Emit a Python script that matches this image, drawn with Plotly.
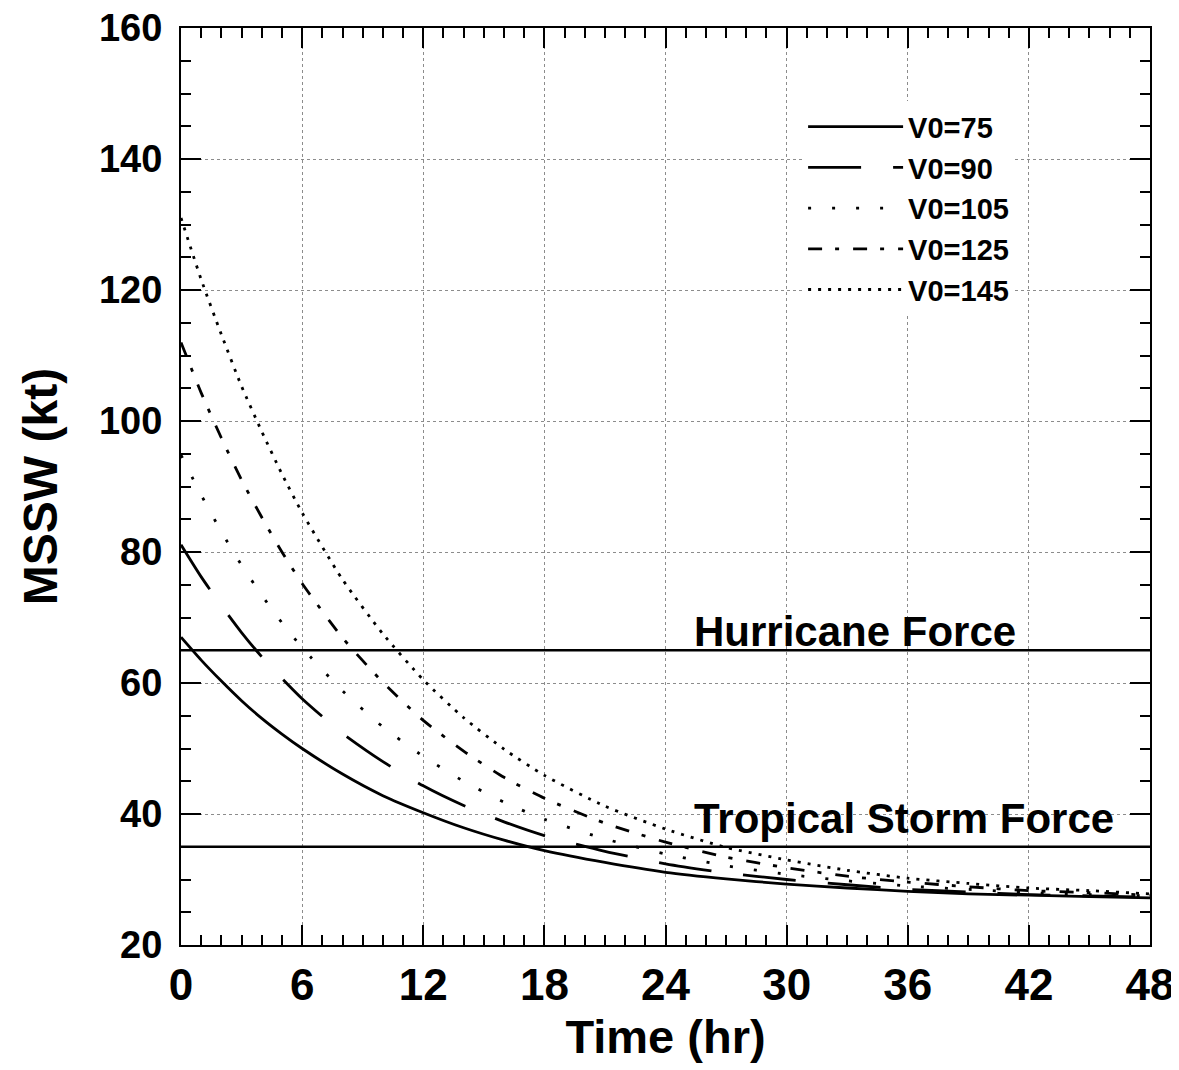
import plotly.graph_objects as go

# ---- data ----
time_hr = [0, 1, 2, 3, 4, 5, 6, 8, 10, 12, 14, 16, 18, 21, 24, 27, 30, 33, 36, 39, 42, 45, 48]

mssw_v75 = [67.0, 63.5, 60.3, 57.3, 54.6, 52.2, 50.0, 46.1, 42.8, 40.2, 37.9, 36.0, 34.4,
            32.6, 31.1, 30.1, 29.3, 28.7, 28.2, 27.8, 27.6, 27.4, 27.2]
mssw_v90 = [81.1, 76.2, 71.8, 67.7, 64.0, 60.7, 57.6, 52.3, 48.0, 44.3, 41.3, 38.8, 36.7,
            34.3, 32.4, 31.0, 30.0, 29.2, 28.5, 28.1, 27.7, 27.5, 27.3]
mssw_v105 = [94.8, 88.7, 83.1, 78.0, 73.4, 69.2, 65.4, 58.8, 53.3, 48.8, 45.0, 41.8, 39.2,
             36.2, 33.9, 32.1, 30.8, 29.8, 29.0, 28.5, 28.0, 27.7, 27.5]
mssw_v125 = [112.0, 104.3, 97.4, 91.0, 85.3, 80.0, 75.2, 66.9, 60.1, 54.3, 49.6, 45.6, 42.4,
             38.6, 35.7, 33.4, 31.8, 30.5, 29.6, 28.9, 28.3, 28.0, 27.6]
mssw_v145 = [131.0, 121.6, 113.2, 105.3, 98.4, 91.9, 86.0, 75.8, 67.5, 60.5, 54.7, 49.9, 45.9,
             41.2, 37.7, 34.9, 33.0, 31.4, 30.2, 29.4, 28.7, 28.3, 27.8]

series_names = ["V0=75", "V0=90", "V0=105", "V0=125", "V0=145"]
series_values = [mssw_v75, mssw_v90, mssw_v105, mssw_v125, mssw_v145]

threshold_values = [65, 35]
threshold_labels = ["Hurricane Force", "Tropical Storm Force"]

x_tick_vals = [0, 6, 12, 18, 24, 30, 36, 42, 48]
y_tick_vals = [20, 40, 60, 80, 100, 120, 140, 160]

# ---- styles ----
dash_styles = ["solid", "53px,32px", "3px,21px", "14px,13px,4px,14px", "3px,7px"]
FONT = "Liberation Sans, Arial, Helvetica, sans-serif"

fig = go.Figure()
for name, vals, dash in zip(series_names, series_values, dash_styles):
    fig.add_trace(go.Scatter(
        x=time_hr, y=vals, name=name, mode="lines",
        line=dict(color="black", width=2.8, dash=dash, shape="spline", smoothing=0.6),
    ))

for val, label, yshift in zip(threshold_values, threshold_labels, [-7, 3]):
    fig.add_hline(y=val, line=dict(color="black", width=2.5))
    fig.add_annotation(
        x=0.527, xref="paper", xanchor="left",
        y=val, yref="y", yanchor="bottom", yshift=yshift,
        text=label, showarrow=False,
        font=dict(family=FONT, size=42, color="black", weight="bold"),
    )

# the page body adds an 8px offset, so the figure is 8px smaller and margins compensate
fig.update_layout(
    width=1171, height=1062,
    margin=dict(l=173, r=29, t=20, b=125),
    paper_bgcolor="white", plot_bgcolor="white",
    font=dict(family=FONT, color="black", weight="bold"),
    showlegend=True,
    legend=dict(
        x=0.642, xanchor="left", y=0.920, yanchor="top",
        bgcolor="white", borderwidth=0,
        font=dict(family=FONT, size=29, color="black", weight="bold"),
        itemwidth=95, tracegroupgap=0,
    ),
)

fig.update_xaxes(
    range=[0, 48], tickvals=x_tick_vals, ticktext=[str(v) for v in x_tick_vals],
    automargin=False, ticklabeloverflow="allow",
    showline=True, linecolor="black", linewidth=2, mirror="allticks",
    ticks="inside", ticklen=20, tickwidth=2, tickcolor="black",
    minor=dict(dtick=1, ticks="inside", ticklen=10, tickwidth=2, tickcolor="black", showgrid=False),
    showgrid=True, gridcolor="#8c8c8c", gridwidth=1, griddash="dot",
    zeroline=False,
    tickfont=dict(family=FONT, size=44, color="black", weight="bold"),
    ticklabelstandoff=0,
    title=dict(text="Time (hr)", standoff=12,
               font=dict(family=FONT, size=47, color="black", weight="bold")),
)

fig.update_yaxes(
    range=[20, 160], tickvals=y_tick_vals, ticktext=[str(v) for v in y_tick_vals],
    automargin=False, ticklabeloverflow="allow",
    showline=True, linecolor="black", linewidth=2, mirror="allticks",
    ticks="inside", ticklen=20, tickwidth=2, tickcolor="black",
    minor=dict(dtick=5, ticks="inside", ticklen=10, tickwidth=2, tickcolor="black", showgrid=False),
    showgrid=True, gridcolor="#8c8c8c", gridwidth=1, griddash="dot",
    zeroline=False,
    tickfont=dict(family=FONT, size=38, color="black", weight="bold"),
    ticklabelstandoff=9,
    title=dict(text="MSSW (kt)", standoff=26,
               font=dict(family=FONT, size=48, color="black", weight="bold")),
)

fig.write_html("out.html")
